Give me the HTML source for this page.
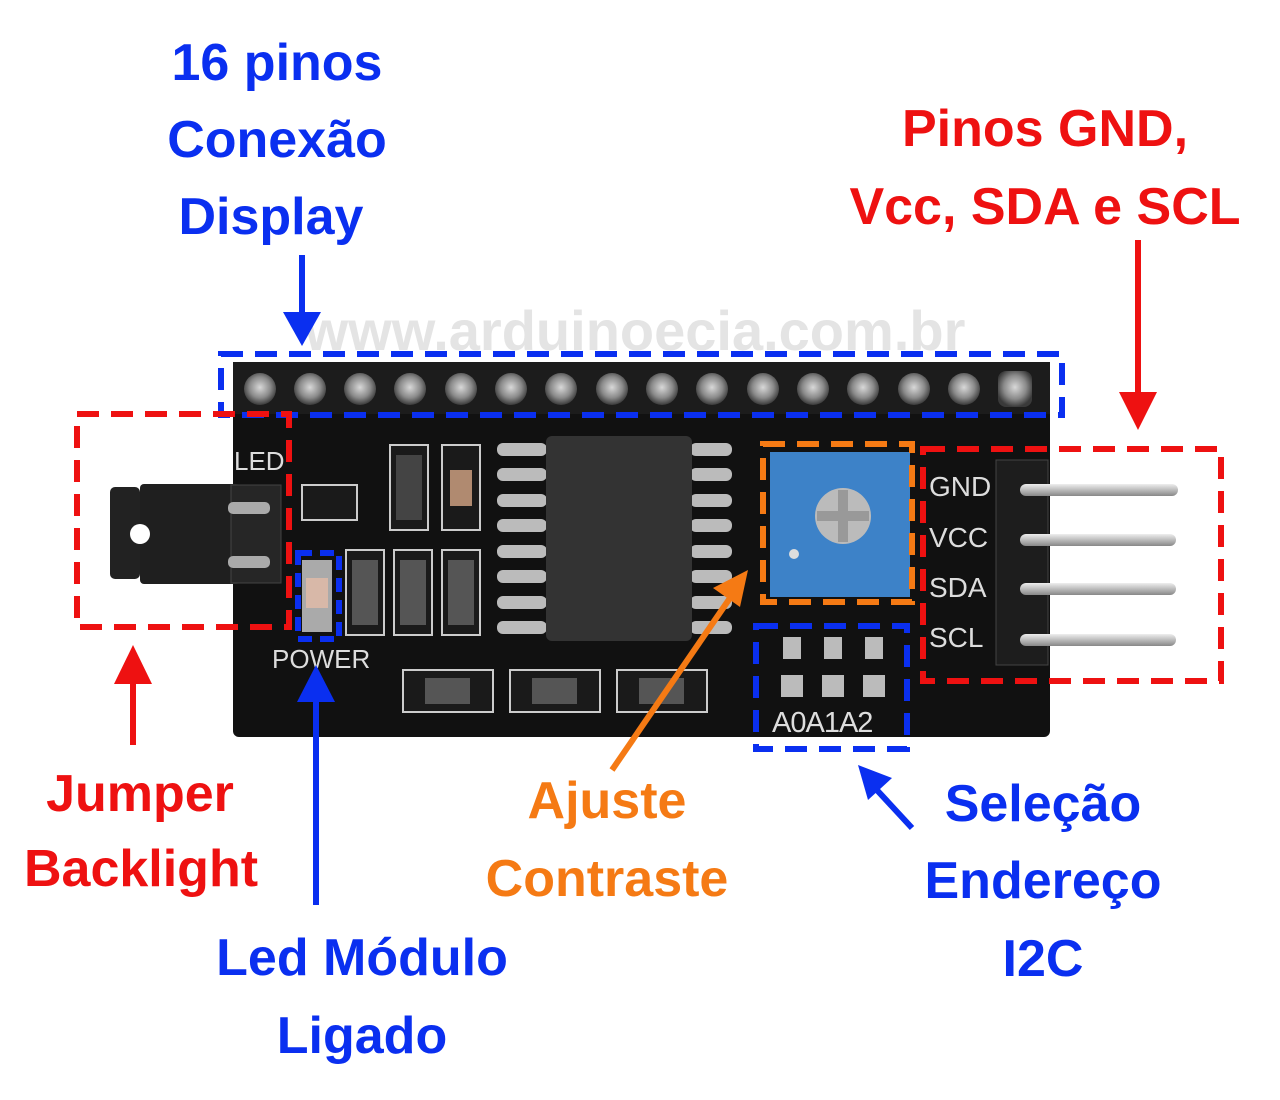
<!DOCTYPE html>
<html><head><meta charset="utf-8"><style>
html,body{margin:0;padding:0;background:#fff;}
svg{display:block;}
text{font-family:"Liberation Sans",sans-serif;font-weight:bold;}
</style></head><body>
<svg width="1280" height="1100" viewBox="0 0 1280 1100" xmlns="http://www.w3.org/2000/svg">
<defs>
<radialGradient id="pin" cx="50%" cy="45%" r="55%"><stop offset="0" stop-color="#d8d8d8"/><stop offset="0.6" stop-color="#8a8a8a"/><stop offset="1" stop-color="#3a3a3a"/></radialGradient>
<linearGradient id="rod" x1="0" y1="0" x2="0" y2="1"><stop offset="0" stop-color="#eee"/><stop offset="0.5" stop-color="#bbb"/><stop offset="1" stop-color="#888"/></linearGradient>
</defs>
<!-- watermark -->
<text x="635" y="350" font-size="56" fill="#e4e4e4" text-anchor="middle">www.arduinoecia.com.br</text>
<!-- board -->
<rect x="233" y="362" width="817" height="375" rx="6" fill="#111"/>
<rect x="233" y="362" width="817" height="52" fill="#1c1c1c"/>
<g id="pins">
<circle cx="260" cy="389" r="16" fill="url(#pin)"/><circle cx="310" cy="389" r="16" fill="url(#pin)"/><circle cx="360" cy="389" r="16" fill="url(#pin)"/><circle cx="410" cy="389" r="16" fill="url(#pin)"/><circle cx="461" cy="389" r="16" fill="url(#pin)"/><circle cx="511" cy="389" r="16" fill="url(#pin)"/><circle cx="561" cy="389" r="16" fill="url(#pin)"/><circle cx="612" cy="389" r="16" fill="url(#pin)"/><circle cx="662" cy="389" r="16" fill="url(#pin)"/><circle cx="712" cy="389" r="16" fill="url(#pin)"/><circle cx="763" cy="389" r="16" fill="url(#pin)"/><circle cx="813" cy="389" r="16" fill="url(#pin)"/><circle cx="863" cy="389" r="16" fill="url(#pin)"/><circle cx="914" cy="389" r="16" fill="url(#pin)"/><circle cx="964" cy="389" r="16" fill="url(#pin)"/><rect x="998" y="371" width="34" height="36" rx="8" fill="url(#pin)"/>
</g>
<text x="234" y="470" font-size="26" fill="#ddd" style="font-weight:normal">LED</text>
<text x="272" y="668" font-size="26" fill="#ddd" style="font-weight:normal">POWER</text>
<!-- jumper -->
<rect x="110" y="487" width="30" height="92" rx="5" fill="#222"/>
<rect x="140" y="484" width="100" height="100" rx="4" fill="#1f1f1f"/>
<rect x="231" y="485" width="50" height="98" fill="#262626" stroke="#444"/>
<rect x="228" y="502" width="42" height="12" rx="5" fill="#aaa"/>
<rect x="228" y="556" width="42" height="12" rx="5" fill="#aaa"/>
<circle cx="140" cy="534" r="10" fill="#fff"/>
<!-- transistor -->
<rect x="302" y="485" width="55" height="35" fill="#1a1a1a" stroke="#ccc" stroke-width="2"/>
<rect x="390" y="445" width="38" height="85" fill="#1a1a1a" stroke="#ccc" stroke-width="2"/>
<rect x="396" y="455" width="26" height="65" fill="#444"/>
<rect x="442" y="445" width="38" height="85" fill="#1a1a1a" stroke="#ccc" stroke-width="2"/>
<rect x="450" y="470" width="22" height="36" fill="#b08a70"/>
<rect x="302" y="560" width="30" height="72" fill="#aaa"/><rect x="306" y="578" width="22" height="30" fill="#d8b8a8"/>
<rect x="346" y="550" width="38" height="85" fill="#1a1a1a" stroke="#ccc" stroke-width="2"/><rect x="352" y="560" width="26" height="65" fill="#555"/>
<rect x="394" y="550" width="38" height="85" fill="#1a1a1a" stroke="#ccc" stroke-width="2"/><rect x="400" y="560" width="26" height="65" fill="#555"/>
<rect x="442" y="550" width="38" height="85" fill="#1a1a1a" stroke="#ccc" stroke-width="2"/><rect x="448" y="560" width="26" height="65" fill="#555"/>
<g fill="#bbb">
<rect x="497" y="443" width="50" height="13" rx="6"/><rect x="497" y="468" width="50" height="13" rx="6"/><rect x="497" y="494" width="50" height="13" rx="6"/><rect x="497" y="519" width="50" height="13" rx="6"/><rect x="497" y="545" width="50" height="13" rx="6"/><rect x="497" y="570" width="50" height="13" rx="6"/><rect x="497" y="596" width="50" height="13" rx="6"/><rect x="497" y="621" width="50" height="13" rx="6"/>
<rect x="690" y="443" width="42" height="13" rx="6"/><rect x="690" y="468" width="42" height="13" rx="6"/><rect x="690" y="494" width="42" height="13" rx="6"/><rect x="690" y="519" width="42" height="13" rx="6"/><rect x="690" y="545" width="42" height="13" rx="6"/><rect x="690" y="570" width="42" height="13" rx="6"/><rect x="690" y="596" width="42" height="13" rx="6"/><rect x="690" y="621" width="42" height="13" rx="6"/>
</g>
<rect x="546" y="436" width="146" height="205" rx="6" fill="#333"/>
<rect x="403" y="670" width="90" height="42" fill="#1a1a1a" stroke="#ccc" stroke-width="2"/><rect x="425" y="678" width="45" height="26" fill="#555"/>
<rect x="510" y="670" width="90" height="42" fill="#1a1a1a" stroke="#ccc" stroke-width="2"/><rect x="532" y="678" width="45" height="26" fill="#555"/>
<rect x="617" y="670" width="90" height="42" fill="#1a1a1a" stroke="#ccc" stroke-width="2"/><rect x="639" y="678" width="45" height="26" fill="#555"/>
<rect x="770" y="452" width="140" height="145" fill="#3d82c8"/>
<circle cx="843" cy="516" r="28" fill="#bbb"/>
<rect x="838" y="490" width="10" height="52" fill="#999"/><rect x="817" y="511" width="52" height="10" fill="#999"/>
<circle cx="794" cy="554" r="5" fill="#ddd"/>
<g fill="#bbb">
<rect x="783" y="637" width="18" height="22"/><rect x="824" y="637" width="18" height="22"/><rect x="865" y="637" width="18" height="22"/>
<rect x="781" y="675" width="22" height="22"/><rect x="822" y="675" width="22" height="22"/><rect x="863" y="675" width="22" height="22"/>
</g>
<text x="772" y="732" font-size="29" fill="#ddd" letter-spacing="-1" style="font-weight:normal">A0A1A2</text>
<text x="929" y="496" font-size="28" fill="#ddd" style="font-weight:normal">GND</text>
<text x="929" y="547" font-size="28" fill="#ddd" style="font-weight:normal">VCC</text>
<text x="929" y="597" font-size="28" fill="#ddd" style="font-weight:normal">SDA</text>
<text x="929" y="647" font-size="28" fill="#ddd" style="font-weight:normal">SCL</text>
<rect x="996" y="460" width="52" height="205" fill="#1d1d1d" stroke="#444"/>
<rect x="1020" y="484" width="158" height="12" rx="6" fill="url(#rod)"/>
<rect x="1020" y="534" width="156" height="12" rx="6" fill="url(#rod)"/>
<rect x="1020" y="583" width="156" height="12" rx="6" fill="url(#rod)"/>
<rect x="1020" y="634" width="156" height="12" rx="6" fill="url(#rod)"/>
<g fill="none" stroke-width="6" stroke-dasharray="22 12">
<rect x="221" y="354" width="841" height="61" stroke="#0a2ff0"/>
<rect x="77" y="414" width="212" height="213" stroke="#ee1111"/>
<rect x="923" y="449" width="298" height="232" stroke="#ee1111"/>
<rect x="763" y="444" width="149" height="158" stroke="#f57a14"/>
<rect x="756" y="626" width="151" height="123" stroke="#0a2ff0"/>
<rect x="298" y="553" width="41" height="86" stroke="#0a2ff0" stroke-dasharray="14 8"/>
</g>
<g stroke-width="6">
<line x1="302" y1="255" x2="302" y2="315" stroke="#0a2ff0"/>
<line x1="1138" y1="240" x2="1138" y2="395" stroke="#ee1111"/>
<line x1="133" y1="745" x2="133" y2="680" stroke="#ee1111"/>
<line x1="316" y1="905" x2="316" y2="700" stroke="#0a2ff0"/>
<line x1="612" y1="770" x2="730" y2="598" stroke="#f57a14"/>
<line x1="912" y1="828" x2="875" y2="788" stroke="#0a2ff0"/>
</g>
<polygon points="283,312 321,312 302,346" fill="#0a2ff0"/>
<polygon points="1119,392 1157,392 1138,430" fill="#ee1111"/>
<polygon points="114,684 152,684 133,645" fill="#ee1111"/>
<polygon points="297,702 335,702 316,665" fill="#0a2ff0"/>
<polygon points="713,588 748,570 740,607" fill="#f57a14"/>
<polygon points="858,765 892,778 868,800" fill="#0a2ff0"/>
<g font-size="52" text-anchor="middle">
<text x="277" y="80" fill="#0a2ff0">16 pinos</text>
<text x="277" y="157" fill="#0a2ff0">Conexão</text>
<text x="271" y="234" fill="#0a2ff0">Display</text>
<text x="1045" y="146" fill="#ee1111">Pinos GND,</text>
<text x="1045" y="224" fill="#ee1111">Vcc, SDA e SCL</text>
<text x="140" y="811" fill="#ee1111">Jumper</text>
<text x="141" y="886" fill="#ee1111">Backlight</text>
<text x="362" y="975" fill="#0a2ff0">Led Módulo</text>
<text x="362" y="1053" fill="#0a2ff0">Ligado</text>
<text x="607" y="818" fill="#f57a14">Ajuste</text>
<text x="607" y="896" fill="#f57a14">Contraste</text>
<text x="1043" y="821" fill="#0a2ff0">Seleção</text>
<text x="1043" y="898" fill="#0a2ff0">Endereço</text>
<text x="1043" y="976" fill="#0a2ff0">I2C</text>
</g>
</svg>
</body></html>
